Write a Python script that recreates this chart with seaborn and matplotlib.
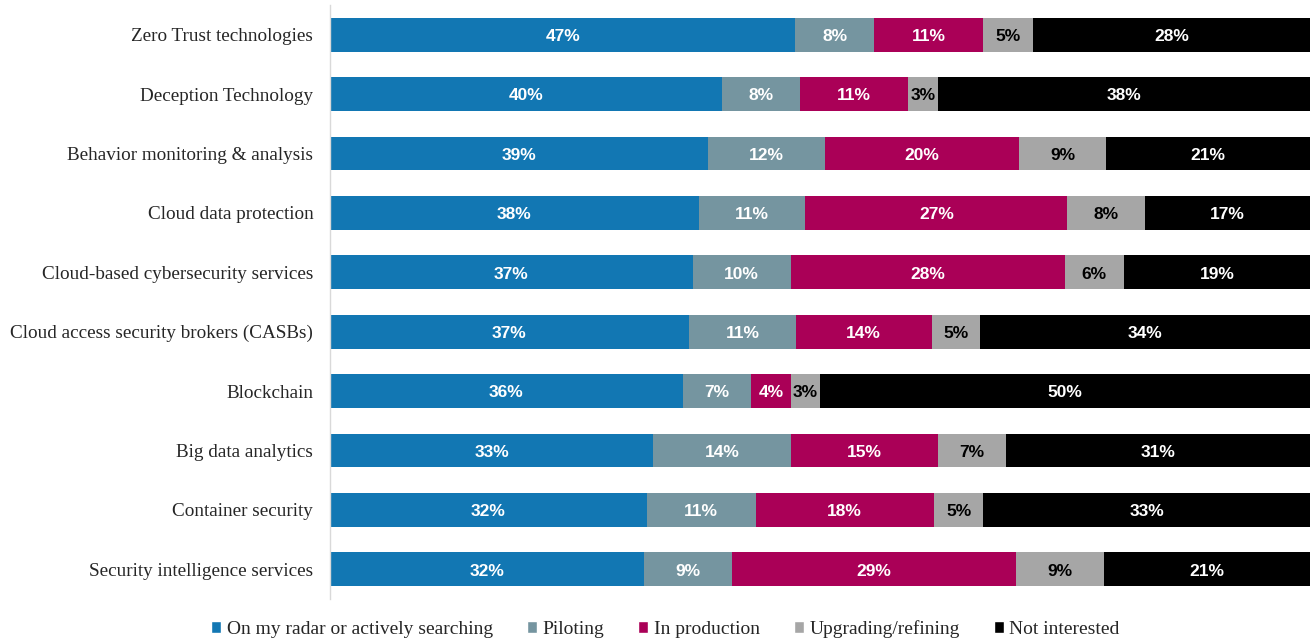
import numpy as np
import pandas as pd
from matplotlib import pyplot as plt
from matplotlib.patches import Patch
import seaborn as sns

# Datos del grafico
categories = ["Zero Trust technologies", "Deception Technology", "Behavior monitoring & analysis",
              "Cloud data protection", "Cloud-based cybersecurity services",
              "Cloud access security brokers (CASBs)", "Blockchain", "Big data analytics",
              "Container security", "Security intelligence services"]
series = ["On my radar or actively searching", "Piloting", "In production",
          "Upgrading/refining", "Not interested"]
radar = [47, 40, 39, 38, 37, 37, 36, 33, 32, 32]
piloting = [8, 8, 12, 11, 10, 11, 7, 14, 11, 9]
production = [11, 11, 20, 27, 28, 14, 4, 15, 18, 29]
upgrading = [5, 3, 9, 8, 6, 5, 3, 7, 5, 9]
not_interested = [28, 38, 21, 17, 19, 34, 50, 31, 33, 21]

colors = ["#1277B3", "#7595A0", "#AA0057", "#A6A6A6", "#000000"]
text_colors = ["white", "white", "white", "black", "white"]

sns.set_style("white")
plt.rcParams["font.family"] = ["Liberation Serif", "DejaVu Serif"]

df = pd.DataFrame(np.array([radar, piloting, production, upgrading, not_interested]).T,
                  columns=series, index=categories)
# 100% apilado (como en Excel)
share = df.div(df.sum(axis=1), axis=0) * 100
cum = share.cumsum(axis=1)

fig = plt.figure(figsize=(13.1, 6.39), dpi=100)
ax = fig.add_axes([330 / 1310, 40 / 639, 980 / 1310, 594 / 639])

# barras acumuladas, de la mas larga a la mas corta
for i in reversed(range(len(series))):
    sns.barplot(x=cum[series[i]].values, y=categories, orient="h", color=colors[i],
                width=0.57, ax=ax, saturation=1, linewidth=0)

# etiquetas de porcentaje
for i, s in enumerate(series):
    starts = cum[s] - share[s]
    for j, cat in enumerate(categories):
        ax.text(starts[cat] + share[s][cat] / 2, j + 0.03, f"{df[s][cat]}%", ha="center", va="center",
                color=text_colors[i], fontsize=12.5, fontweight="bold", family="Liberation Sans")

ax.set_xlim(0, 100)
ax.set_ylim(9.5, -0.5)
ax.set_xticks([])
ax.set_xlabel("")
ax.set_ylabel("")
ax.tick_params(axis="y", length=0, pad=12, labelsize=13.8)
for sp in ["top", "right", "bottom"]:
    ax.spines[sp].set_visible(False)
ax.spines["left"].set_color("#D9D9D9")
ax.spines["left"].set_linewidth(1)

handles = [Patch(facecolor=c, label=s) for c, s in zip(colors, series)]
fig.legend(handles=handles, loc="center", bbox_to_anchor=(0.508, 0.016), ncol=5, frameon=False,
           fontsize=14, handlelength=0.5, handleheight=0.6, handletextpad=0.3, columnspacing=1.75)

plt.savefig("out.png", dpi=100)
